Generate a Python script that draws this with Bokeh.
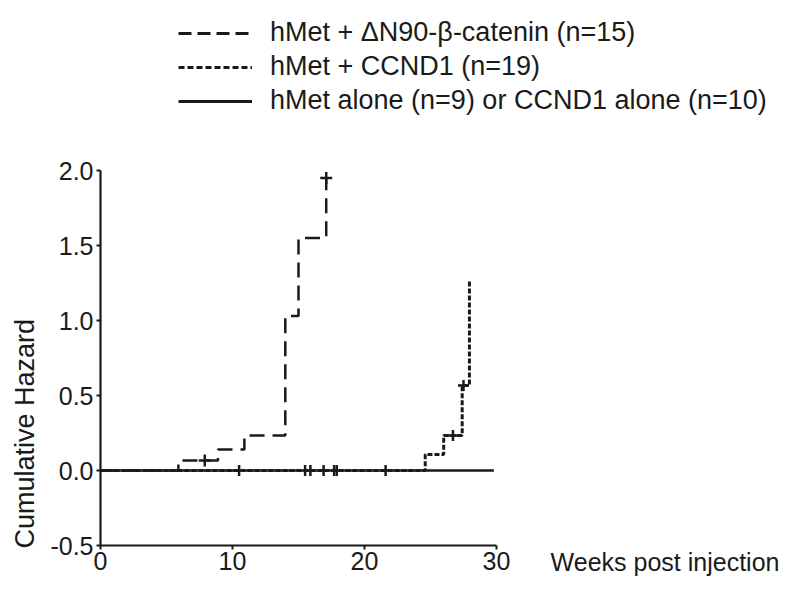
import math
from bokeh.plotting import figure
from bokeh.models import (Range1d, FixedTicker, PrintfTickFormatter, Legend, LegendItem,
                          Label, LinearAxis)
from bokeh.embed import file_html
from bokeh.resources import INLINE

# ---- data ----
x_ticks = [0, 10, 20, 30]
y_ticks = [-0.5, 0.0, 0.5, 1.0, 1.5, 2.0]

series_labels = [
    "hMet + \u0394N90-\u03b2-catenin (n=15)",
    "hMet + CCND1 (n=19)",
    "hMet alone (n=9) or CCND1 alone (n=10)",
]

catenin_weeks = [0, 5.9, 8.9, 10.9, 14.0, 15.0, 17.1]
catenin_hazard = [0, 0.067, 0.14, 0.233, 1.03, 1.55, 1.95]
catenin_censor_weeks = [7.9, 17.1]
catenin_censor_hazard = [0.067, 1.95]

ccnd1_weeks = [0, 24.6, 26.0, 27.4, 27.95]
ccnd1_hazard = [0, 0.107, 0.233, 0.567, 1.27]
ccnd1_censor_weeks = [26.7, 27.5]
ccnd1_censor_hazard = [0.233, 0.567]

alone_weeks = [0, 29.8]
alone_hazard = [0, 0]
alone_censor_weeks = [10.5, 15.5, 15.9, 16.9, 17.7, 17.9, 21.6]
alone_censor_hazard = [0, 0, 0, 0, 0, 0, 0]

FONT = "Liberation Sans"
INK = "#1a1a1a"

W, H = 784, 576
# axes box in canvas pixels: x 0..30 -> 100..496, y -0.5..2.0 -> 545..170
PX_X = 396 / 30.0
PX_Y = 375 / 2.5
x0_px, y0_px = 100, 470

p = figure(frame_width=W, frame_height=H,
           min_border_left=0, min_border_right=0,
           min_border_top=0, min_border_bottom=0,
           x_range=Range1d(-x0_px / PX_X, (W - x0_px) / PX_X),
           y_range=Range1d(-(H - y0_px) / PX_Y, y0_px / PX_Y),
           x_axis_location=None, y_axis_location=None,
           output_backend="svg", toolbar_location=None,
           background_fill_color="white", border_fill_color="white")
p.outline_line_color = None
p.grid.visible = False

xaxis = LinearAxis(fixed_location=y_ticks[0], bounds=(x_ticks[0], x_ticks[-1]),
                   ticker=FixedTicker(ticks=x_ticks),
                   formatter=PrintfTickFormatter(format="%d"))
yaxis = LinearAxis(fixed_location=x_ticks[0], bounds=(y_ticks[0], y_ticks[-1]),
                   ticker=FixedTicker(ticks=y_ticks),
                   formatter=PrintfTickFormatter(format="%.1f"))
for ax in (xaxis, yaxis):
    ax.axis_line_width = 2.2
    ax.axis_line_color = INK
    ax.major_tick_line_width = 2
    ax.major_tick_line_color = INK
    ax.major_tick_in = 0
    ax.major_tick_out = 4
    ax.minor_tick_line_color = None
    ax.major_label_text_font = FONT
    ax.major_label_text_font_size = "25px"
    ax.major_label_text_color = INK
xaxis.major_label_standoff = 2
yaxis.major_label_standoff = 3
p.add_layout(xaxis, "below")
p.add_layout(yaxis, "left")

# ---- series ----
p.step(alone_weeks, alone_hazard, mode="after", line_color=INK, line_width=2.5)
p.step(catenin_weeks, catenin_hazard, mode="after", line_color=INK, line_width=2.5,
       line_dash="15 8")
p.step(ccnd1_weeks, ccnd1_hazard, mode="after", line_color=INK, line_width=3,
       line_dash="5 2")

# censor marks
p.scatter(alone_censor_weeks, alone_censor_hazard, marker="dash", angle=math.pi / 2,
          size=11, line_color=INK, line_width=2.5)
p.scatter(catenin_censor_weeks, catenin_censor_hazard, marker="cross",
          size=12, line_color=INK, line_width=2.5)
p.scatter(ccnd1_censor_weeks, ccnd1_censor_hazard, marker="cross",
          size=11, line_color=INK, line_width=2.5)

# legend-only renderers (no visible data, used only for the legend glyphs)
nan = [float("nan")]
r1 = p.line(nan, nan, line_color=INK, line_width=3, line_dash="13 6")
r2 = p.line(nan, nan, line_color=INK, line_width=3, line_dash="6 3")
r3 = p.line(nan, nan, line_color=INK, line_width=3)

legend = Legend(items=[LegendItem(label=series_labels[0], renderers=[r1]),
                       LegendItem(label=series_labels[1], renderers=[r2]),
                       LegendItem(label=series_labels[2], renderers=[r3])],
                location=(178, 460), orientation="vertical",
                background_fill_alpha=0, border_line_color=None,
                padding=0, margin=0, spacing=3,
                glyph_width=74, glyph_height=30, label_height=30,
                label_standoff=18,
                label_text_font=FONT, label_text_font_size="27px",
                label_text_color=INK)
p.add_layout(legend, "center")

p.add_layout(Label(x=34.1, y=-0.613, text="Weeks post injection",
                   text_font=FONT, text_font_size="25px", text_color=INK,
                   text_align="left", text_baseline="middle"))
p.add_layout(Label(x=-5.7, y=-0.52, text="Cumulative Hazard", angle=math.pi / 2,
                   text_font=FONT, text_font_size="27px", text_color=INK,
                   text_align="left", text_baseline="middle"))

open("out.html", "w").write(file_html(p, INLINE))
